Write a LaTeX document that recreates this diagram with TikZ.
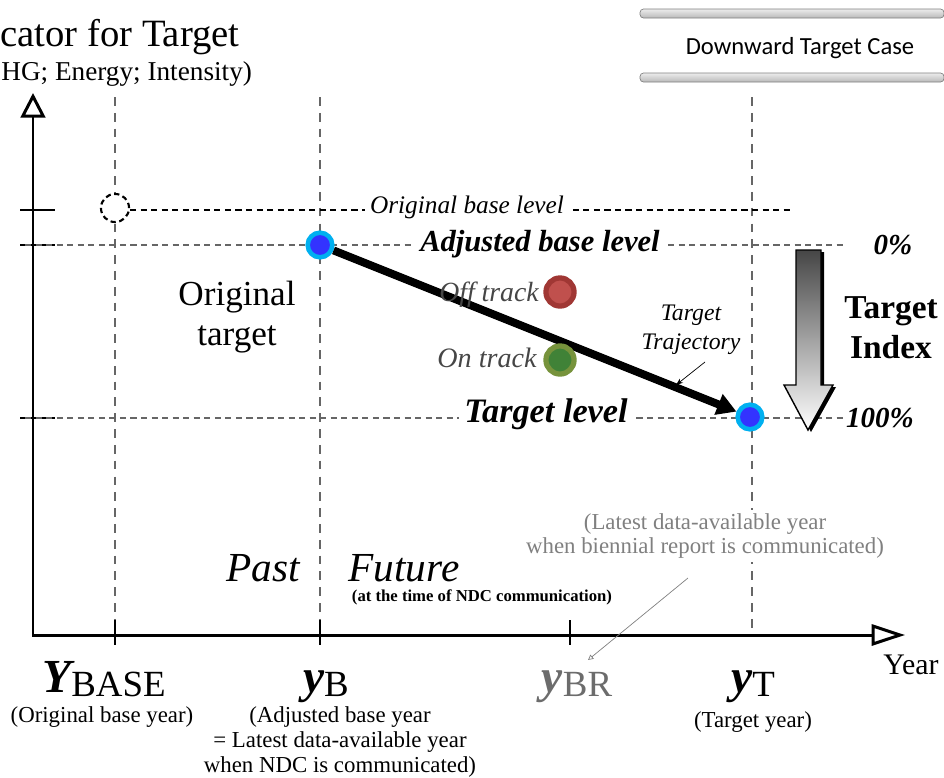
\documentclass[tikz,border=0pt]{standalone}
\usepackage{fontspec}
\setmainfont{Liberation Serif}
\newfontfamily\casefont{Carlito}
\usetikzlibrary{arrows.meta,positioning,shadows}

\definecolor{bdot}{RGB}{51,51,255}
\definecolor{bring}{RGB}{0,176,240}
\definecolor{offfill}{RGB}{192,80,77}
\definecolor{offring}{RGB}{160,55,52}
\definecolor{onfill}{RGB}{64,130,55}
\definecolor{onring}{RGB}{119,147,60}
\definecolor{notegray}{RGB}{128,128,128}
\definecolor{tracktxt}{RGB}{70,70,70}

\tikzset{
  guide/.style={gray!80!black, line width=.6pt, dash pattern=on 5pt off 4pt},
  levelline/.style={gray!80!black, line width=.6pt, dash pattern=on 3.5pt off 2.5pt},
  yeardot/.style={circle, fill=bdot, draw=bring, line width=2.6pt, minimum size=14pt},
  trackdot/.style={circle, line width=3pt, minimum size=16pt,
                   drop shadow={shadow xshift=.8pt, shadow yshift=-.8pt, opacity=.9}},
  levelnode/.style={fill=white, inner xsep=3pt, inner ysep=1pt},
  yearlbl/.style={anchor=base},
  note/.style={align=center, font=\fontsize{13}{14.2}\selectfont}
}

\begin{document}
\begin{tikzpicture}[x=0.02cm, y=-0.02cm, every node/.append style={inner sep=0pt}]
  \useasboundingbox (0,0) rectangle (944,778);

  % title, cut at the left edge
  \node[anchor=base west] (title) at (0,46) {\fontsize{22}{24}\selectfont cator for Target};
  \node[anchor=base west] (subtitle) at (1,80) {\fontsize{15.5}{17}\selectfont HG; Energy; Intensity)};

  % case banner
  \shade[top color=gray!15, bottom color=gray!55, draw=gray, rounded corners=2pt] (640,9) rectangle (944,18);
  \shade[top color=gray!15, bottom color=gray!55, draw=gray, rounded corners=2pt] (640,73) rectangle (944,82);
  \node (case) at (800,48) {\casefont\fontsize{14}{16}\selectfont Downward Target Case};

  % axes
  \coordinate (O) at (33,635);
  \coordinate (ytop) at (33,93);
  \coordinate (xend) at (905,635);
  \foreach \gx in {115,320,752}
    \draw[guide] (\gx,97) -- (\gx,635);
  \foreach \gx in {115,320,570}
    \draw[line width=.6pt] (\gx,620) -- (\gx,645);
  \foreach \gy in {210,245,418}
    \draw[line width=.6pt] (20,\gy) -- (55,\gy);
  \draw[line width=1.7pt, {Triangle[open,length=14pt,width=14pt]}-{Triangle[open,length=19pt,width=12pt]}]
    (ytop) -- (O) -- (xend);

  % levels
  \draw[levelline] (25,245) -- (845,245);
  \draw[levelline] (25,418) -- (845,418);
  \draw[levelline, black, line width=.7pt] (130,210) -- (790,210);
  \node[circle, draw, fill=white, line width=1.2pt, dash pattern=on 3pt off 2pt, minimum size=16pt] (oldbase) at (115,208) {};
  \node[levelnode] (origlvl) at (467,207) {\fontsize{14.4}{16}\selectfont\itshape Original base level};
  \node[levelnode] (adjlvl) at (540,244) {\fontsize{17.4}{19}\selectfont\bfseries\itshape Adjusted base level};
  \node[levelnode] (tgtlvl) at (546,414) {\fontsize{19.5}{21}\selectfont\bfseries\itshape Target level};
  \node (pct0) at (893,245) {\fontsize{16.5}{18}\selectfont\bfseries\itshape 0\%};
  \node (pct100) at (880,418) {\fontsize{16.5}{18}\selectfont\bfseries\itshape 100\%};

  % trajectory
  \node[yeardot] (dotB) at (320,245) {};
  \node[yeardot] (dotT) at (750,417) {};
  \draw[line width=4.5pt, -{Triangle[length=11pt,width=12pt]}] (dotB) -- (dotT);
  \node[trackdot, fill=offfill, draw=offring] (offdot) at (560,292) {};
  \node[trackdot, fill=onfill, draw=onring] (ondot) at (560,360) {};
  \node[tracktxt] (offlbl) at (489,295) {\fontsize{15.8}{17}\selectfont\itshape Off track};
  \node[tracktxt] (onlbl) at (487,358) {\fontsize{16}{17}\selectfont\itshape On track};
  \node[align=center, font=\fontsize{13.5}{16.4}\selectfont\itshape] (trajlbl) at (691,330) {Target\\Trajectory};
  \coordinate (trajtail) at (705,362);
  \coordinate (trajhead) at (676,385);
  \draw[line width=.4pt, -{Stealth[length=4pt,width=3pt]}] (trajtail) -- (trajhead);
  \node[align=center, font=\fontsize{20}{22.7}\selectfont] (origtgt) at (237,317) {Original\\target};

  % target index arrow
  \fill[black] (799,252) -- (824,252) -- (824,387) -- (836,387) -- (811,432) -- (787,387) -- (799,387) -- cycle;
  \shade[top color=gray!55!black, bottom color=white, draw=black, line width=.8pt]
    (796,250) -- (821,250) -- (821,385) -- (833,385) -- (808,430) -- (784,385) -- (796,385) -- cycle;
  \node[align=center, font=\fontsize{19}{22.7}\selectfont\bfseries] (tindex) at (891,328) {Target\\Index};

  % past / future
  \node (past) at (263,568) {\fontsize{23.5}{25}\selectfont\itshape Past};
  \node (future) at (404,568) {\fontsize{23.5}{25}\selectfont\itshape Future};
  \node (ndctime) at (482,597) {\fontsize{9.5}{11}\selectfont\bfseries (at the time of NDC communication)};

  % biennial report note
  \node[note, text=notegray, fill=white, inner sep=2pt] (brnote) at (705,536) {(Latest data-available year\\when biennial report is communicated)};
  \coordinate (brtail) at (688,578);
  \coordinate (brhead) at (588,660);
  \draw[gray, line width=.4pt, -{Triangle[open,length=3pt,width=3pt]}] (brtail) -- (brhead);

  % years
  \node[yearlbl] (ybase) at (104,692) {\fontsize{27}{27}\selectfont\bfseries\itshape Y\raisebox{-.2ex}{\fontsize{21}{21}\selectfont\normalfont BASE}};
  \node[yearlbl] (yb) at (326,692) {\fontsize{27}{27}\selectfont\bfseries\itshape y\raisebox{-.2ex}{\fontsize{21}{21}\selectfont\normalfont B}};
  \node[yearlbl, text=gray!85!black] (ybr) at (577,692) {\fontsize{27}{27}\selectfont\bfseries\itshape y\raisebox{-.2ex}{\fontsize{21}{21}\selectfont\normalfont BR}};
  \node[yearlbl] (yt) at (753,692) {\fontsize{27}{27}\selectfont\bfseries\itshape y\raisebox{-.2ex}{\fontsize{21}{21}\selectfont\normalfont T}};
  \node (yearlbl) at (911,665) {\fontsize{17}{19}\selectfont Year};
  \node[note] (ybasenote) at (102,717) {(Original base year)};
  \node[note] (ybnote) at (340,742) {(Adjusted base year\\= Latest data-available year\\when NDC is communicated)};
  \node[note] (ytnote) at (753,722) {(Target year)};
\end{tikzpicture}
\end{document}
